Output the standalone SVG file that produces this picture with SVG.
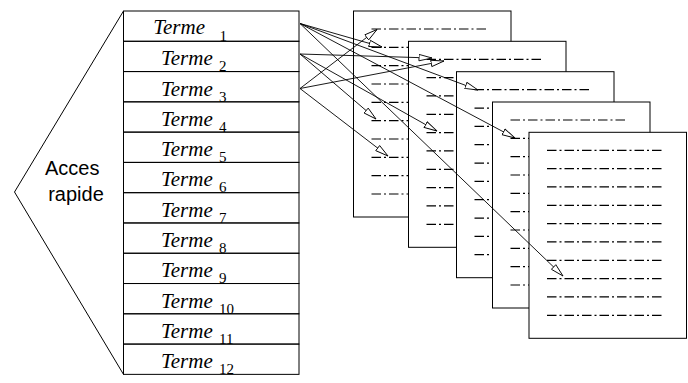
<svg xmlns="http://www.w3.org/2000/svg" xmlns:xlink="http://www.w3.org/1999/xlink" width="688" height="383" viewBox="0 0 688 383">
<style>
.box{fill:#fff;stroke:#000;stroke-width:1}
.dl{stroke:#000;stroke-width:1.2;stroke-dasharray:9.5 3 2 3;fill:none}
.t{font-family:"Liberation Serif","Times New Roman",serif;font-style:italic;font-size:21px;fill:#000}
.s{font-family:"Liberation Serif","Times New Roman",serif;font-size:15px;fill:#000}
.a{font-family:"Liberation Sans",Arial,sans-serif;font-size:20px;fill:#000;text-anchor:middle}
.c{stroke:#000;stroke-width:0.9;fill:none;marker-end:url(#ah)}
</style>
<defs>
<marker id="ah" markerUnits="userSpaceOnUse" markerWidth="14" markerHeight="9" viewBox="0 0 14 9" refX="13.5" refY="4.5" orient="auto">
<path d="M0.5,1.3 L13.5,4.5 L0.5,7.7 Z" fill="#fff" stroke="#000" stroke-width="0.9"/>
</marker>
<g id="lines">
<path class="dl" d="M18,18H134.5M18,36.33H134.5M18,54.67H134.5M18,73H134.5M18,91.33H134.5M18,109.67H134.5M18,128H134.5M18,146.33H134.5M18,164.67H134.5M18,183H134.5"/>
</g>
</defs>
<rect width="688" height="383" fill="#fff"/>
<g id="acces">
<polyline points="123.5,11 14.5,192 123.5,374.4" fill="none" stroke="#000" stroke-width="1"/>
<text class="a" x="72.2" y="175">Acces</text>
<text class="a" x="76" y="200.5">rapide</text>
</g>
<g id="index">
<g id="terme1"><text class="t" x="153.3" y="34">Terme</text><text class="s" x="219.5" y="40.8">1</text><rect class="box" x="123.5" y="11" width="175.5" height="30.28" fill-opacity="0"/></g>
<g id="terme2"><text class="t" x="161" y="65.3">Terme</text><text class="s" x="219" y="71.3">2</text><rect class="box" x="123.5" y="41.28" width="175.5" height="30.28" fill-opacity="0"/></g>
<g id="terme3"><text class="t" x="161" y="95.6">Terme</text><text class="s" x="219" y="101.6">3</text><rect class="box" x="123.5" y="71.56" width="175.5" height="30.28" fill-opacity="0"/></g>
<g id="terme4"><text class="t" x="161" y="125.9">Terme</text><text class="s" x="219" y="131.9">4</text><rect class="box" x="123.5" y="101.84" width="175.5" height="30.28" fill-opacity="0"/></g>
<g id="terme5"><text class="t" x="161" y="156.1">Terme</text><text class="s" x="219" y="162.1">5</text><rect class="box" x="123.5" y="132.12" width="175.5" height="30.28" fill-opacity="0"/></g>
<g id="terme6"><text class="t" x="161" y="186.4">Terme</text><text class="s" x="219" y="192.4">6</text><rect class="box" x="123.5" y="162.4" width="175.5" height="30.28" fill-opacity="0"/></g>
<g id="terme7"><text class="t" x="161" y="216.7">Terme</text><text class="s" x="219" y="222.7">7</text><rect class="box" x="123.5" y="192.68" width="175.5" height="30.28" fill-opacity="0"/></g>
<g id="terme8"><text class="t" x="161" y="247">Terme</text><text class="s" x="219" y="253">8</text><rect class="box" x="123.5" y="222.96" width="175.5" height="30.28" fill-opacity="0"/></g>
<g id="terme9"><text class="t" x="161" y="277.2">Terme</text><text class="s" x="219" y="283.2">9</text><rect class="box" x="123.5" y="253.24" width="175.5" height="30.28" fill-opacity="0"/></g>
<g id="terme10"><text class="t" x="161" y="307.5">Terme</text><text class="s" x="219" y="313.5">10</text><rect class="box" x="123.5" y="283.52" width="175.5" height="30.28" fill-opacity="0"/></g>
<g id="terme11"><text class="t" x="161" y="337.8">Terme</text><text class="s" x="219" y="343.8">11</text><rect class="box" x="123.5" y="313.8" width="175.5" height="30.28" fill-opacity="0"/></g>
<g id="terme12"><text class="t" x="161" y="368.1">Terme</text><text class="s" x="219" y="374.1">12</text><rect class="box" x="123.5" y="344.08" width="175.5" height="30.28" fill-opacity="0"/></g>
</g>
<g id="page1"><rect class="box" x="353.5" y="11" width="157.5" height="206"/><use xlink:href="#lines" href="#lines" x="353.5" y="11"/></g>
<g id="page2"><rect class="box" x="408.5" y="41.3" width="157.5" height="206"/><use xlink:href="#lines" href="#lines" x="408.5" y="41.3"/></g>
<g id="page3"><rect class="box" x="456.5" y="71.7" width="157.5" height="206"/><use xlink:href="#lines" href="#lines" x="456.5" y="71.7"/></g>
<g id="page4"><rect class="box" x="492.5" y="102" width="157.5" height="206"/><use xlink:href="#lines" href="#lines" x="492.5" y="102"/></g>
<g id="page5"><rect class="box" x="529" y="132.3" width="157.5" height="206"/><use xlink:href="#lines" href="#lines" x="529" y="132.3"/></g>
<g id="connectors">
<line class="c" x1="300" y1="23.5" x2="382" y2="47"/>
<line class="c" x1="300" y1="23.5" x2="478" y2="90"/>
<line class="c" x1="300" y1="23.5" x2="515" y2="138"/>
<line class="c" x1="300" y1="23.5" x2="563" y2="276"/>
<line class="c" x1="300" y1="54" x2="432" y2="58"/>
<line class="c" x1="300" y1="54" x2="376" y2="119"/>
<line class="c" x1="300" y1="54" x2="437" y2="131"/>
<line class="c" x1="300" y1="88.5" x2="377" y2="29.5"/>
<line class="c" x1="300" y1="88.5" x2="444" y2="61"/>
<line class="c" x1="300" y1="88.5" x2="388" y2="156"/>
</g>
</svg>
